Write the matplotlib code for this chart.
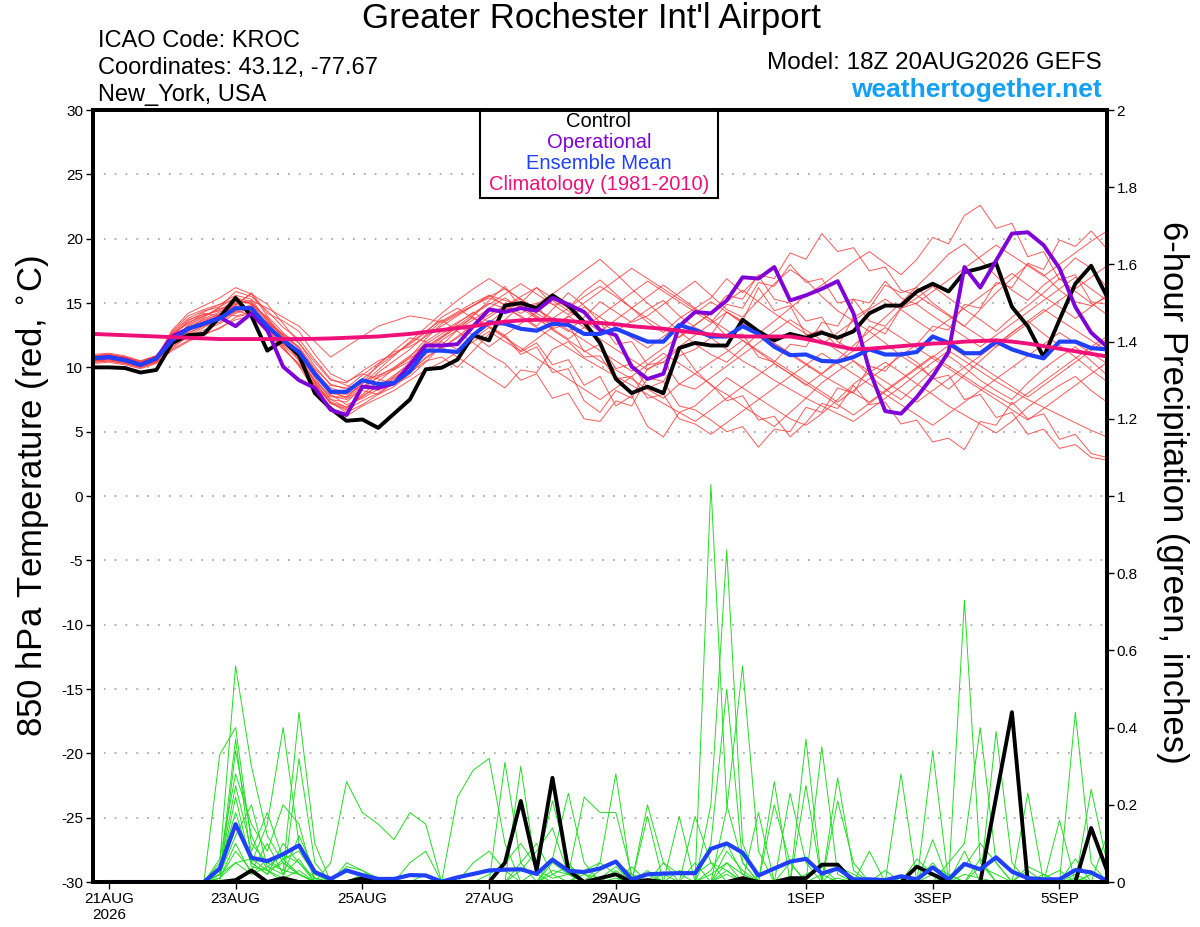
import numpy as np
import pandas as pd
import matplotlib
matplotlib.use('Agg')
import matplotlib.pyplot as plt
from matplotlib.patches import Rectangle

plt.rcParams['font.family'] = ['Liberation Sans', 'DejaVu Sans']
plt.rcParams['axes.unicode_minus'] = False

# 6-hourly valid times, GEFS 18Z 20AUG2026 run
times = pd.date_range('2026-08-20 18:00', periods=65, freq='6h')

# 850 hPa temperature (C)
control = [10.0, 10.0, 9.95, 9.6, 9.8, 11.9, 12.5, 12.6, 13.9, 15.4, 14.0, 11.3, 12.1,
           10.95, 8.0, 6.8, 5.85, 5.95, 5.3, 6.4, 7.5, 9.85, 9.97, 10.6, 12.5, 12.1,
           14.8, 15.0, 14.6, 15.6, 14.8, 13.5, 11.9, 9.1, 8.0, 8.5, 8.0, 11.5, 11.9,
           11.7, 11.7, 13.7, 12.8, 12.1, 12.6, 12.3, 12.7, 12.3, 12.8, 14.2, 14.8, 14.8,
           15.9, 16.5, 15.9, 17.4, 17.7, 18.1, 14.7, 13.2, 10.8, 13.7, 16.5, 17.9, 15.5]
operational = [10.7, 10.8, 10.6, 10.2, 10.7, 12.4, 13.0, 13.4, 13.9, 13.2, 14.2, 12.9, 10.05,
               9.0, 8.4, 6.7, 6.3, 8.5, 8.4, 8.75, 10.2, 11.7, 11.7, 11.8, 13.2, 14.5,
               14.3, 14.6, 14.4, 15.4, 14.9, 14.3, 12.9, 12.5, 10.05, 9.1, 9.5, 13.2, 14.3,
               14.2, 15.2, 17.0, 16.9, 17.8, 15.2, 15.6, 16.1, 16.7, 14.2, 9.8, 6.6, 6.4,
               7.7, 9.3, 11.2, 17.8, 16.2, 18.3, 20.4, 20.5, 19.5, 17.7, 14.7, 12.7, 11.6]
ens_mean = [10.7, 10.8, 10.55, 10.2, 10.7, 12.1, 13.0, 13.4, 13.8, 14.6, 14.6, 13.2, 12.1,
            11.2, 9.5, 8.1, 8.1, 9.0, 8.7, 8.8, 9.7, 11.3, 11.3, 11.2, 12.5, 13.5,
            13.4, 13.0, 12.85, 13.4, 13.3, 12.6, 12.6, 13.0, 12.5, 12.0, 12.0, 13.3, 12.9,
            12.4, 12.4, 13.2, 12.6, 11.6, 10.95, 11.0, 10.5, 10.45, 10.8, 11.4, 11.0, 11.0,
            11.2, 12.4, 11.9, 11.1, 11.1, 12.0, 11.4, 11.0, 10.7, 12.0, 12.0, 11.5, 11.4]
climatology = [12.6, 12.55, 12.5, 12.45, 12.4, 12.35, 12.3, 12.25, 12.2, 12.2, 12.2, 12.2, 12.2,
               12.2, 12.22, 12.25, 12.3, 12.35, 12.4, 12.5, 12.6, 12.75, 12.9, 13.05, 13.2, 13.4,
               13.55, 13.65, 13.7, 13.7, 13.6, 13.5, 13.45, 13.35, 13.2, 13.1, 13.0, 12.85, 12.7,
               12.55, 12.45, 12.4, 12.4, 12.4, 12.4, 12.2, 11.95, 11.65, 11.4, 11.45, 11.55, 11.65,
               11.75, 11.85, 11.9, 12.0, 12.05, 12.1, 12.0, 11.85, 11.65, 11.45, 11.25, 11.05, 10.85]

members = [
    [10.9, 11.0, 10.8, 10.4, 10.9, 12.5, 13.5, 14.0, 14.5, 15.2, 15.0, 13.8, 12.5,
     11.5, 9.8, 8.2, 7.6, 8.5, 9.2, 9.8, 10.5, 12.0, 12.8, 13.5, 14.2, 15.0,
     14.6, 14.0, 13.2, 14.5, 15.8, 14.8, 13.5, 12.8, 13.6, 14.5, 15.2, 14.0, 13.1,
     12.5, 14.3, 13.6, 16.2, 14.4, 14.8, 12.5, 12.9, 11.6, 13.9, 14.6, 16.4, 15.8,
     16.2, 15.0, 14.1, 13.2, 14.5, 15.8, 16.9, 18.0, 17.2, 16.0, 15.1, 14.8, 15.5],
    [10.5, 10.6, 10.4, 10.1, 10.5, 11.8, 12.9, 13.6, 14.2, 14.0, 14.3, 13.0, 11.9,
     11.0, 9.2, 7.5, 6.9, 7.8, 8.5, 9.4, 10.2, 11.1, 12.0, 11.4, 12.2, 13.1,
     12.4, 11.0, 11.6, 9.6, 9.9, 7.4, 6.5, 8.2, 7.6, 9.9, 10.4, 11.5, 9.8,
     8.6, 7.9, 7.0, 6.2, 5.4, 6.5, 7.6, 8.8, 9.7, 10.5, 9.4, 8.3, 7.5,
     8.6, 9.8, 10.9, 10.0, 9.0, 8.2, 7.5, 8.8, 9.9, 10.8, 11.6, 10.5, 9.4],
    [10.8, 10.9, 10.7, 10.3, 10.8, 12.8, 14.0, 14.5, 14.9, 15.6, 15.3, 13.6, 12.3,
     10.8, 8.9, 7.2, 6.8, 7.9, 8.9, 9.9, 10.8, 12.2, 13.4, 14.1, 14.8, 15.4,
     14.9, 15.3, 14.2, 13.5, 12.8, 13.9, 15.1, 14.3, 13.5, 14.0, 14.9, 15.8, 16.7,
     15.6, 14.5, 13.9, 15.2, 16.5, 17.6, 16.8, 15.5, 14.4, 13.6, 12.8, 13.9, 15.0,
     16.3, 17.5, 18.8, 19.6, 18.4, 17.1, 16.0, 15.2, 16.4, 17.3, 18.5, 17.7, 16.2],
    [10.6, 10.7, 10.5, 10.2, 10.6, 11.5, 12.4, 12.9, 13.4, 14.2, 14.6, 13.4, 12.6,
     11.9, 10.4, 9.0, 8.8, 9.7, 10.5, 11.0, 11.8, 12.7, 13.9, 14.6, 13.8, 13.2,
     12.5, 11.2, 11.9, 10.2, 10.6, 8.6, 9.3, 7.0, 7.8, 5.4, 4.6, 6.5, 7.0,
     8.1, 9.2, 8.4, 7.6, 6.8, 6.0, 5.5, 6.4, 7.5, 8.7, 9.6, 10.4, 9.6,
     8.7, 7.9, 7.0, 6.3, 5.6, 4.9, 5.8, 6.9, 7.8, 8.6, 9.3, 8.2, 7.3],
    [10.4, 10.5, 10.3, 10.0, 10.4, 12.2, 13.2, 13.9, 14.7, 15.9, 15.5, 14.4, 13.1,
     12.2, 10.6, 9.1, 8.6, 8.2, 7.9, 8.5, 9.5, 10.8, 11.5, 12.4, 13.3, 14.1,
     14.8, 15.5, 16.2, 15.4, 14.6, 15.9, 16.8, 15.7, 14.6, 13.5, 12.7, 13.8, 14.6,
     15.4, 16.9, 15.8, 17.1, 15.3, 15.0, 13.6, 13.9, 12.0, 11.3, 13.2, 12.6, 14.6,
     15.4, 16.3, 15.4, 14.5, 13.7, 12.8, 13.9, 14.8, 15.8, 16.9, 15.9, 15.0, 14.1],
    [11.0, 11.1, 10.9, 10.5, 10.9, 12.0, 12.7, 13.2, 13.5, 14.4, 14.9, 13.9, 12.2,
     10.5, 8.6, 7.3, 6.5, 7.1, 7.9, 8.8, 9.6, 10.5, 10.8, 10.0, 11.3, 12.6,
     13.7, 14.8, 13.9, 12.9, 12.1, 11.3, 10.5, 9.8, 9.1, 8.3, 7.6, 8.7, 9.5,
     10.4, 11.2, 12.1, 11.2, 10.3, 9.5, 8.6, 9.5, 10.6, 11.7, 12.8, 11.9, 10.9,
     10.1, 9.2, 8.3, 9.4, 10.5, 11.6, 12.7, 13.6, 12.6, 11.7, 10.8, 9.8, 8.9],
    [10.7, 10.8, 10.6, 10.2, 10.6, 12.6, 13.4, 14.2, 14.0, 14.8, 15.8, 14.2, 13.6,
     12.8, 11.0, 9.5, 8.9, 9.5, 9.1, 8.7, 9.3, 10.4, 11.7, 12.9, 14.0, 15.2,
     16.3, 14.6, 15.0, 13.0, 13.4, 11.2, 11.8, 9.9, 10.3, 8.4, 8.9, 7.0, 6.7,
     5.9, 5.0, 5.4, 3.8, 5.2, 5.0, 6.9, 6.5, 8.4, 8.0, 10.1, 9.7, 11.2,
     10.4, 9.1, 9.4, 7.5, 7.9, 6.1, 6.5, 4.8, 5.2, 3.7, 4.0, 3.0, 2.8],
    [10.8, 10.9, 10.7, 10.3, 10.7, 11.9, 12.8, 13.5, 14.0, 14.9, 14.5, 12.8, 11.5,
     10.2, 8.7, 7.5, 7.3, 8.4, 9.6, 10.5, 11.4, 12.5, 13.6, 14.3, 15.0, 15.6,
     14.8, 14.2, 14.9, 15.7, 16.6, 17.5, 18.4, 17.3, 16.1, 15.0, 13.9, 12.8, 11.8,
     11.0, 10.4, 11.5, 12.6, 13.6, 14.6, 15.6, 16.4, 17.3, 18.2, 19.0, 18.1, 17.2,
     18.4, 20.1, 19.6, 21.8, 22.6, 20.8, 21.2, 18.6, 19.0, 16.8, 17.2, 15.1, 14.9],
    [10.5, 10.6, 10.4, 10.0, 10.4, 11.6, 12.5, 13.1, 13.8, 14.4, 14.1, 13.1, 12.0,
     11.2, 9.6, 8.4, 8.0, 9.1, 10.1, 11.0, 11.9, 12.8, 13.7, 12.8, 11.9, 11.0,
     10.3, 9.0, 9.5, 7.6, 8.0, 6.0, 5.8, 7.4, 7.0, 9.2, 8.9, 10.9, 11.4,
     12.3, 11.4, 10.5, 9.8, 9.0, 8.3, 7.6, 7.0, 6.4, 5.8, 6.7, 7.6, 8.5,
     9.5, 10.4, 11.3, 10.5, 9.7, 8.9, 8.2, 7.5, 6.9, 6.3, 5.7, 5.1, 4.6],
    [10.9, 11.0, 10.8, 10.4, 10.8, 12.3, 13.1, 13.7, 14.1, 15.0, 15.2, 14.6, 13.9,
     13.2, 12.0, 10.8, 11.6, 12.4, 13.2, 13.6, 14.0, 13.8, 13.5, 14.2, 14.8, 15.5,
     16.1, 15.3, 14.5, 13.8, 14.6, 15.5, 16.3, 15.5, 14.6, 13.8, 13.0, 12.3, 13.3,
     14.2, 15.1, 16.0, 15.1, 14.2, 13.4, 12.6, 11.8, 12.7, 13.6, 14.5, 15.3, 14.5,
     13.6, 12.8, 13.7, 14.6, 15.5, 16.4, 17.3, 16.4, 15.5, 14.7, 13.8, 14.7, 15.6],
    [10.6, 10.7, 10.5, 10.1, 10.5, 12.0, 13.3, 14.0, 14.6, 14.6, 14.3, 12.9, 11.6,
     10.1, 8.2, 6.6, 6.2, 7.0, 7.6, 8.2, 9.0, 9.8, 10.4, 11.2, 12.0, 12.8,
     12.0, 11.3, 12.2, 13.1, 14.0, 13.1, 12.2, 11.4, 10.6, 9.8, 10.7, 11.6, 12.5,
     13.4, 14.3, 13.4, 12.6, 11.8, 11.0, 10.2, 9.4, 8.7, 8.0, 7.3, 8.2, 9.1,
     10.0, 10.9, 10.1, 9.3, 8.5, 7.8, 7.1, 8.0, 8.9, 9.8, 10.7, 11.6, 12.4],
    [10.7, 10.8, 10.6, 10.3, 10.7, 12.4, 13.6, 14.3, 14.9, 15.3, 14.9, 13.3, 11.8,
     10.9, 9.3, 8.0, 7.9, 8.6, 8.2, 9.3, 10.4, 11.6, 12.4, 13.3, 12.5, 11.6,
     12.5, 13.4, 14.3, 15.2, 14.4, 13.6, 12.8, 13.7, 14.6, 15.5, 16.4, 15.5, 14.6,
     13.7, 12.4, 12.6, 10.8, 10.4, 11.8, 11.6, 13.5, 13.2, 15.3, 15.0, 16.7, 15.4,
     14.9, 14.0, 13.2, 12.4, 11.6, 12.5, 13.4, 14.3, 15.2, 16.1, 17.0, 16.1, 15.2],
    [10.3, 10.4, 10.2, 9.9, 10.3, 11.4, 12.1, 12.6, 13.0, 13.9, 14.2, 13.5, 12.5,
     11.6, 9.9, 8.7, 8.3, 8.9, 9.4, 9.9, 10.7, 11.5, 12.3, 13.1, 13.9, 13.1,
     12.3, 11.5, 10.7, 9.9, 9.1, 8.3, 7.5, 8.4, 9.3, 10.2, 11.1, 10.3, 9.5,
     8.7, 7.4, 7.8, 5.9, 6.2, 4.6, 5.7, 7.2, 6.8, 8.6, 7.1, 7.3, 5.6,
     5.9, 4.2, 4.5, 3.6, 5.8, 5.5, 7.3, 6.0, 6.4, 4.4, 4.8, 3.3, 3.0],
    [10.8, 10.9, 10.7, 10.4, 10.8, 12.7, 13.8, 14.4, 14.7, 15.4, 15.1, 13.7, 12.4,
     11.3, 9.4, 7.9, 7.1, 7.6, 8.3, 9.1, 10.0, 11.0, 12.1, 12.9, 13.7, 14.6,
     15.4, 14.6, 13.8, 13.0, 12.2, 13.1, 14.0, 14.9, 15.8, 16.7, 15.9, 15.1, 14.3,
     13.5, 14.9, 14.6, 16.6, 16.3, 18.0, 16.6, 16.9, 15.0, 15.3, 13.6, 13.2, 14.6,
     15.0, 15.9, 16.8, 17.7, 18.6, 19.5, 18.7, 17.9, 17.1, 18.0, 18.9, 19.8, 20.6],
    [10.6, 10.7, 10.5, 10.1, 10.6, 11.7, 12.6, 13.3, 13.9, 14.7, 14.4, 13.0, 11.7,
     10.6, 8.9, 7.7, 7.7, 8.8, 10.2, 11.3, 12.3, 12.0, 11.5, 12.3, 13.1, 13.9,
     14.7, 13.9, 13.1, 12.3, 11.5, 10.7, 10.0, 9.3, 8.6, 7.9, 7.2, 6.5, 5.8,
     6.7, 7.6, 8.5, 9.4, 10.3, 9.5, 8.7, 7.9, 7.1, 6.3, 7.2, 8.1, 9.0,
     9.9, 10.8, 11.7, 10.9, 10.1, 9.3, 8.5, 7.7, 8.6, 9.5, 10.4, 11.3, 12.2],
    [10.5, 10.6, 10.4, 10.1, 10.5, 12.1, 12.9, 13.4, 13.7, 14.3, 14.8, 13.2, 12.0,
     10.8, 9.0, 7.8, 7.5, 8.3, 9.3, 10.0, 10.9, 11.8, 12.6, 13.4, 14.3, 13.5,
     14.4, 15.0, 16.2, 14.9, 15.0, 13.3, 13.5, 11.8, 12.0, 10.2, 10.4, 8.7, 8.3,
     9.2, 10.1, 11.0, 11.9, 12.8, 13.7, 12.9, 12.1, 11.3, 10.5, 9.7, 8.9, 8.1,
     7.3, 8.2, 9.1, 10.0, 10.9, 11.8, 12.7, 13.6, 14.5, 13.7, 12.9, 12.1, 11.3],
    [10.7, 10.8, 10.6, 10.2, 10.7, 12.9, 14.2, 14.8, 15.4, 16.2, 15.7, 14.0, 12.7,
     11.5, 9.6, 8.0, 7.7, 8.7, 9.8, 10.9, 12.0, 13.1, 14.2, 15.2, 16.1, 16.9,
     16.1, 15.3, 14.5, 13.7, 12.9, 12.1, 11.3, 10.5, 9.7, 10.6, 11.5, 12.4, 13.3,
     14.2, 15.6, 15.3, 17.2, 16.9, 18.9, 18.4, 20.4, 19.0, 19.3, 17.5, 17.8, 16.0,
     15.6, 14.8, 14.0, 13.2, 12.4, 11.6, 12.5, 13.4, 14.3, 15.2, 16.1, 17.0, 17.9],
    [10.4, 10.5, 10.3, 10.0, 10.4, 11.3, 12.0, 12.5, 13.1, 13.7, 14.0, 12.7, 11.4,
     10.3, 8.6, 7.2, 6.7, 7.4, 8.0, 8.9, 9.8, 10.7, 11.6, 10.8, 10.0, 9.2,
     8.4, 9.8, 9.6, 11.4, 12.0, 10.8, 10.9, 9.1, 9.3, 7.6, 7.9, 6.0, 5.6,
     4.8, 5.7, 6.6, 7.5, 8.4, 9.3, 10.2, 11.1, 10.3, 9.5, 8.7, 7.9, 7.1,
     6.3, 5.5, 6.4, 7.3, 8.2, 9.1, 10.0, 10.9, 11.8, 12.7, 11.9, 11.1, 10.3],
    [10.9, 11.0, 10.8, 10.5, 10.9, 12.2, 13.0, 13.8, 14.3, 14.9, 15.7, 14.9, 13.4,
     11.9, 10.1, 8.6, 8.4, 9.4, 10.3, 11.2, 11.6, 12.4, 13.2, 14.0, 14.8, 15.6,
     15.2, 14.8, 14.0, 13.2, 13.9, 14.7, 13.9, 13.1, 12.3, 11.5, 12.4, 13.3, 14.2,
     15.1, 14.3, 13.5, 12.7, 11.9, 11.1, 10.3, 9.5, 10.4, 11.3, 12.2, 13.1, 12.3,
     11.5, 10.7, 9.9, 9.1, 8.3, 7.5, 6.7, 5.9, 6.8, 7.7, 8.6, 9.5, 10.4],
    [10.6, 10.7, 10.5, 10.2, 10.6, 12.6, 13.7, 14.1, 14.4, 15.1, 15.0, 13.5, 12.0,
     10.7, 8.8, 7.3, 6.9, 7.7, 8.6, 9.2, 10.1, 11.2, 12.3, 13.2, 14.1, 14.9,
     15.7, 16.5, 15.7, 14.9, 14.1, 15.0, 15.9, 16.8, 17.7, 16.9, 16.1, 15.3, 14.5,
     13.7, 12.9, 12.1, 11.3, 10.5, 9.7, 8.9, 8.1, 7.3, 8.2, 9.1, 10.0, 10.9,
     11.8, 13.2, 12.9, 14.9, 14.6, 16.6, 16.2, 18.1, 17.6, 19.9, 19.4, 20.6, 19.2],
]

# 6-hour precipitation (inches), valid 00Z 21AUG onward
pcp_control = [0, 0, 0, 0, 0, 0, 0, 0,
               0.005, 0.03, 0, 0.01, 0, 0, 0, 0,
               0.01, 0, 0, 0, 0, 0, 0, 0,
               0, 0.05, 0.21, 0.03, 0.27, 0.03, 0, 0.01,
               0.02, 0, 0.005, 0, 0, 0, 0, 0,
               0.01, 0, 0, 0.01, 0.01, 0.045, 0.045, 0,
               0, 0, 0, 0.04, 0.02, 0, 0, 0,
               0.22, 0.44, 0, 0, 0, 0, 0.14, 0.03]
pcp_mean = [0, 0, 0, 0, 0, 0, 0, 0.035,
            0.15, 0.063, 0.054, 0.072, 0.095, 0.026, 0.008, 0.03,
            0.018, 0.008, 0.008, 0.018, 0.017, 0.001, 0.012, 0.021,
            0.03, 0.032, 0.033, 0.021, 0.058, 0.029, 0.026, 0.035,
            0.053, 0.007, 0.02, 0.022, 0.023, 0.023, 0.086, 0.10,
            0.076, 0.017, 0.035, 0.053, 0.06, 0.022, 0.035, 0.007,
            0.007, 0.005, 0.015, 0.007, 0.038, 0.007, 0.047, 0.033,
            0.064, 0.027, 0.01, 0.007, 0.007, 0.031, 0.025, 0.003]

pcp_members = [
    [0, 0, 0, 0, 0, 0, 0, 0.05, 0.56, 0.30, 0.12, 0.05, 0.02, 0, 0, 0,
     0, 0, 0, 0, 0, 0, 0, 0, 0, 0, 0.05, 0.10, 0.02, 0, 0, 0,
     0.03, 0, 0, 0, 0, 0, 1.03, 0.20, 0.05, 0, 0, 0, 0, 0.02, 0, 0,
     0, 0, 0, 0, 0.11, 0, 0.73, 0.05, 0, 0, 0, 0, 0, 0.02, 0, 0],
    [0, 0, 0, 0, 0, 0, 0, 0.33, 0.40, 0.10, 0.05, 0.03, 0.44, 0.10, 0, 0,
     0, 0, 0, 0, 0, 0, 0, 0, 0, 0, 0, 0, 0.05, 0.02, 0, 0,
     0, 0.04, 0, 0, 0, 0, 0.20, 0.86, 0.10, 0, 0, 0.05, 0, 0.35, 0.02, 0,
     0, 0, 0, 0, 0, 0, 0, 0, 0.39, 0.05, 0, 0, 0, 0, 0.02, 0],
    [0, 0, 0, 0, 0, 0, 0, 0.02, 0.37, 0.05, 0.15, 0.40, 0.10, 0.01, 0, 0,
     0, 0, 0, 0, 0, 0, 0.22, 0.29, 0.32, 0.10, 0, 0, 0, 0, 0, 0,
     0, 0, 0.20, 0.05, 0, 0, 0.10, 0.50, 0.05, 0, 0.26, 0, 0, 0, 0, 0,
     0, 0, 0, 0, 0, 0.05, 0.10, 0.40, 0.05, 0, 0, 0, 0, 0, 0, 0],
    [0, 0, 0, 0, 0, 0, 0, 0, 0.34, 0.12, 0.03, 0, 0.32, 0.05, 0, 0,
     0.02, 0, 0, 0, 0, 0, 0, 0, 0, 0.31, 0.05, 0, 0, 0, 0, 0.05,
     0.28, 0, 0, 0, 0, 0, 0, 0.19, 0.56, 0.08, 0, 0, 0, 0, 0.27, 0.03,
     0, 0, 0, 0, 0.34, 0, 0, 0, 0, 0, 0.23, 0, 0, 0.06, 0, 0],
    [0, 0, 0, 0, 0, 0, 0, 0.03, 0.25, 0.08, 0.18, 0.06, 0.02, 0, 0.05, 0.26,
     0.18, 0.15, 0.11, 0.18, 0.15, 0, 0, 0, 0, 0, 0.30, 0.02, 0, 0, 0, 0,
     0, 0, 0, 0, 0.17, 0, 0, 0, 0, 0, 0, 0, 0.37, 0, 0, 0,
     0, 0, 0.28, 0, 0, 0, 0, 0, 0, 0, 0, 0, 0, 0.44, 0.05, 0],
    [0, 0, 0, 0, 0, 0, 0, 0.04, 0.18, 0.05, 0.02, 0.10, 0.05, 0, 0, 0.05,
     0.03, 0, 0, 0, 0, 0, 0, 0, 0.02, 0.05, 0.10, 0.04, 0.21, 0.05, 0, 0,
     0, 0, 0.17, 0, 0, 0.17, 0.05, 0, 0, 0.18, 0, 0.23, 0.05, 0, 0.21, 0.05,
     0, 0, 0, 0, 0, 0, 0, 0.06, 0, 0, 0, 0, 0, 0, 0.24, 0.05],
    [0, 0, 0, 0, 0, 0, 0, 0.06, 0.28, 0.15, 0.08, 0.20, 0.15, 0, 0, 0,
     0, 0, 0, 0, 0, 0, 0, 0, 0, 0, 0, 0, 0.06, 0.23, 0.05, 0,
     0, 0, 0.03, 0, 0, 0.05, 0, 0.08, 0.03, 0, 0, 0, 0.25, 0, 0, 0,
     0.08, 0, 0, 0, 0, 0, 0, 0, 0, 0, 0, 0, 0.16, 0, 0, 0],
    [0, 0, 0, 0, 0, 0, 0, 0.02, 0.12, 0.20, 0.04, 0.02, 0.06, 0, 0, 0,
     0, 0, 0, 0, 0, 0, 0, 0, 0, 0, 0, 0, 0.03, 0.02, 0.22, 0.18,
     0.18, 0.02, 0, 0, 0, 0, 0, 0, 0, 0, 0, 0, 0, 0, 0, 0,
     0, 0, 0, 0, 0, 0, 0.04, 0.10, 0.05, 0, 0, 0, 0, 0, 0, 0.12],
    [0, 0, 0, 0, 0, 0, 0, 0.01, 0.08, 0.03, 0.10, 0.02, 0.12, 0.03, 0, 0,
     0, 0, 0, 0, 0, 0, 0, 0, 0, 0, 0.03, 0.08, 0.14, 0.02, 0, 0,
     0, 0, 0, 0.05, 0.02, 0, 0.03, 0.10, 0.02, 0, 0.20, 0.05, 0, 0, 0, 0,
     0, 0, 0, 0, 0.05, 0, 0, 0, 0, 0, 0.04, 0.02, 0, 0, 0, 0],
    [0, 0, 0, 0, 0, 0, 0, 0.02, 0.15, 0.05, 0.02, 0.06, 0.08, 0.02, 0, 0,
     0, 0, 0, 0, 0, 0, 0, 0, 0, 0, 0, 0, 0, 0, 0, 0.03,
     0.05, 0.02, 0, 0, 0.03, 0.02, 0.05, 0.03, 0, 0, 0, 0, 0.02, 0.04, 0, 0,
     0, 0.03, 0, 0, 0, 0, 0.02, 0.01, 0, 0, 0, 0, 0, 0, 0.02, 0.01],
    [0, 0, 0, 0, 0, 0, 0, 0.01, 0.05, 0.02, 0.06, 0.03, 0.02, 0, 0, 0.04,
     0.03, 0.01, 0, 0.05, 0.08, 0, 0, 0, 0, 0, 0, 0.03, 0.01, 0.02, 0, 0,
     0, 0, 0, 0, 0, 0, 0.02, 0.05, 0.02, 0, 0, 0, 0, 0, 0.01, 0,
     0, 0, 0, 0, 0, 0.02, 0, 0, 0, 0, 0, 0.02, 0, 0.01, 0, 0],
    [0, 0, 0, 0, 0, 0, 0, 0.02, 0.22, 0.04, 0.03, 0.05, 0.02, 0, 0, 0,
     0, 0, 0, 0, 0, 0, 0, 0.05, 0.08, 0.03, 0, 0, 0.02, 0.04, 0.02, 0,
     0.01, 0, 0, 0.02, 0, 0, 0, 0.05, 0, 0, 0, 0, 0, 0, 0.04, 0.02,
     0, 0, 0, 0.06, 0.02, 0, 0, 0.04, 0.02, 0, 0, 0, 0, 0, 0, 0],
    [0, 0, 0, 0, 0, 0, 0, 0.01, 0.10, 0.02, 0.04, 0.07, 0.05, 0.01, 0, 0,
     0, 0, 0, 0, 0.02, 0, 0, 0, 0, 0, 0, 0, 0, 0, 0.03, 0.05,
     0.02, 0, 0, 0, 0, 0, 0, 0.03, 0, 0, 0, 0, 0, 0, 0, 0,
     0, 0, 0, 0, 0.04, 0.02, 0, 0, 0, 0, 0, 0.01, 0.03, 0, 0, 0],
    [0, 0, 0, 0, 0, 0, 0, 0.02, 0.05, 0.06, 0.03, 0.01, 0.03, 0, 0, 0,
     0, 0, 0, 0, 0, 0, 0, 0, 0, 0, 0, 0, 0, 0, 0.02, 0.01,
     0.04, 0, 0.02, 0, 0, 0, 0, 0.02, 0, 0, 0, 0, 0, 0, 0, 0,
     0, 0, 0.01, 0, 0.02, 0, 0.08, 0, 0, 0, 0.03, 0, 0, 0, 0, 0],
]

tick_days = ['2026-08-21', '2026-08-23', '2026-08-25', '2026-08-27', '2026-08-29',
             '2026-09-01', '2026-09-03', '2026-09-05']
tick_labels = ['21AUG\n2026', '23AUG', '25AUG', '27AUG', '29AUG', '1SEP', '3SEP', '5SEP']

fig = plt.figure(figsize=(12, 9.27), dpi=100)
ax = fig.add_axes([0.0775, 0.0485, 0.845, 0.8328])
ax2 = ax.twinx()

# temperature
for m in members:
    ax.plot(times, m, color='#ff3c3c', lw=0.7, alpha=0.85)
ax.plot(times, control, color='black', lw=2.8)
ax.plot(times, operational, color='#8000d8', lw=2.8)
ax.plot(times, ens_mean, color='#2040ff', lw=3.0)
ax.plot(times, climatology, color='#f0107a', lw=2.8)

# precipitation
for p in pcp_members:
    ax2.plot(times[1:], p, color='#22dd22', lw=0.7)
ax2.plot(times[1:], pcp_control, color='black', lw=2.8)
ax2.plot(times[1:], pcp_mean, color='#2040ff', lw=3.0)

ax.set_xlim(times[0], times[-1])
ax.set_ylim(-30, 30)
ax2.set_ylim(0, 2)
ax.set_yticks(np.arange(-30, 31, 5))
ax2.set_yticks(np.arange(0, 2.01, 0.2))
ax2.set_yticklabels(['%g' % round(v, 1) for v in np.arange(0, 2.01, 0.2)])
ax.set_xticks(pd.to_datetime(tick_days))
ax.set_xticklabels(tick_labels)

for y in range(-25, 30, 5):
    ax.axhline(y, color='#aaaaaa', lw=1.3, ls=(0, (1, 5)), zorder=0)

for a in (ax, ax2):
    for s in a.spines.values():
        s.set_linewidth(2.8)
    a.tick_params(labelsize=11, length=5, width=1, direction='out', pad=2)

# legend box
ax.add_patch(Rectangle((0.3817, 0.886), 0.2347, 0.114, transform=ax.transAxes,
                       facecolor='white', edgecolor='black', lw=1.5, zorder=5))
leg = [('Control', 'black'), ('Operational', '#8000d8'),
       ('Ensemble Mean', '#2040ff'), ('Climatology (1981-2010)', '#f0107a')]
for k, (txt, col) in enumerate(leg):
    ax.text(0.499, 0.9857 - k * 0.0275, txt, color=col, fontsize=14.5, ha='center',
            va='center', transform=ax.transAxes, zorder=6)

fig.text(0.4925, 0.980, "Greater Rochester Int'l Airport", fontsize=25, ha='center', va='center')
fig.text(0.0815, 0.956, 'ICAO Code: KROC', fontsize=17, ha='left', va='center')
fig.text(0.0815, 0.927, 'Coordinates: 43.12, -77.67', fontsize=17, ha='left', va='center')
fig.text(0.0815, 0.898, 'New_York, USA', fontsize=17, ha='left', va='center')
fig.text(0.918, 0.932, 'Model: 18Z 20AUG2026 GEFS', fontsize=17.5, ha='right', va='center')
fig.text(0.918, 0.903, 'weathertogether.net', fontsize=19, fontweight='bold',
         color='#14a0f5', ha='right', va='center')
fig.text(0.027, 0.465, r'850 hPa Temperature (red, $^{\circ}$C)', fontsize=25,
         rotation=90, ha='center', va='center')
fig.text(0.977, 0.469, '6-hour Precipitation (green, inches)', fontsize=25,
         rotation=270, ha='center', va='center')

fig.savefig('out.png', dpi=100)
